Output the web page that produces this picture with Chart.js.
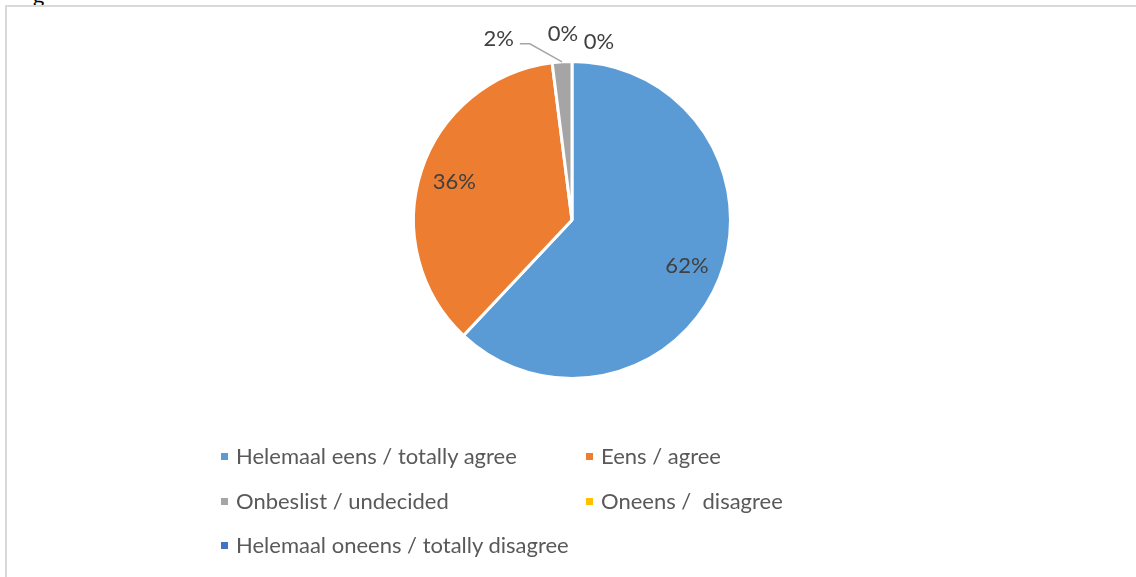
<!DOCTYPE html>
<html>
<head>
<meta charset="utf-8">
<script src="https://cdn.jsdelivr.net/npm/chart.js@4"></script>
<style>
  html, body { margin:0; padding:0; background:#fff; }
  body { width:1136px; height:577px; position:relative; overflow:hidden; font-family:Lato, "Open Sans", sans-serif; }
  #frame { position:absolute; left:5px; top:5px; right:-10px; bottom:-10px; border-top:2px solid #d9d9d9; border-left:2px solid #d9d9d9; }
  #cut { position:absolute; left:33px; top:-19px; font-size:22px; color:#000; }
  #wrap { position:absolute; left:0; top:0; width:1136px; height:577px; }
  .leg { position:absolute; font-size:22px; color:#595959; white-space:pre; line-height:1; }
  .leg i { position:absolute; left:-15px; top:8px; width:7px; height:7px; }
</style>
</head>
<body>
<div id="cut">g</div>
<div id="frame"></div>
<div id="wrap"><canvas id="myChart"></canvas></div>
<div id="legend"></div>
<script>
// data
const labels = [
  'Helemaal eens / totally agree',
  'Eens / agree',
  'Onbeslist / undecided',
  'Oneens /  disagree',
  'Helemaal oneens / totally disagree'
];
const values = [62, 36, 2, 0, 0];
const colors = ['#5B9BD5', '#ED7D31', '#A5A5A5', '#FFC000', '#4472C4'];

// label placement (inside slice or outside with a nudge)
const inside = [true, true, false, false, false];
const nudge = [[0,0], [0,0], [-62,-1], [-9,-6], [27,2]];

// legend spots, two columns
const legPos = [[236,445], [601,445], [236,490], [601,490], [236,534]];

const total = values.reduce((a, b) => a + b, 0);

const pieLabels = {
  id: 'pieLabels',
  afterDatasetsDraw(chart) {
    const ctx = chart.ctx;
    const meta = chart.getDatasetMeta(0);
    ctx.save();
    ctx.font = '22px Lato, "Open Sans", sans-serif';
    ctx.fillStyle = '#404040';
    ctx.textAlign = 'center';
    ctx.textBaseline = 'middle';
    meta.data.forEach((arc, i) => {
      const p = arc.getProps(['x', 'y', 'startAngle', 'endAngle', 'outerRadius'], true);
      const mid = (p.startAngle + p.endAngle) / 2;
      const txt = Math.round(values[i] / total * 100) + '%';
      let lx, ly;
      if (inside[i]) {
        const r = p.outerRadius * 0.78;
        lx = p.x + Math.cos(mid) * r;
        ly = p.y + Math.sin(mid) * r;
      } else {
        const r = p.outerRadius + 22;
        lx = p.x + Math.cos(mid) * r + nudge[i][0];
        ly = p.y + Math.sin(mid) * r + nudge[i][1];
        if (values[i] > 0) {
          // leader line
          const w = ctx.measureText(txt).width;
          const ex = p.x + Math.cos(mid) * p.outerRadius;
          const ey = p.y + Math.sin(mid) * p.outerRadius;
          ctx.beginPath();
          ctx.strokeStyle = '#a6a6a6';
          ctx.lineWidth = 1.5;
          ctx.moveTo(lx + w / 2 + 6, ly + 5);
          ctx.lineTo(lx + w / 2 + 16, ly + 5);
          ctx.lineTo(ex, ey);
          ctx.stroke();
        }
      }
      ctx.fillText(txt, lx, ly);
    });
    ctx.restore();
  }
};

const data = {
  labels: labels,
  datasets: [{
    data: values,
    backgroundColor: colors,
    borderColor: '#ffffff',
    borderWidth: 3
  }]
};

const config = {
  type: 'pie',
  data: data,
  options: {
    responsive: false,
    animation: false,
    layout: { padding: { top: 60, bottom: 197, left: 412, right: 404 } },
    plugins: {
      legend: { display: false },
      tooltip: { enabled: false }
    }
  },
  plugins: [pieLabels]
};

const cv = document.getElementById('myChart');
cv.width = 1136;
cv.height = 577;
const myChart = new Chart(cv, config);

// legend
const legend = document.getElementById('legend');
labels.forEach((l, i) => {
  const d = document.createElement('div');
  d.className = 'leg';
  d.style.left = legPos[i][0] + 'px';
  d.style.top = legPos[i][1] + 'px';
  d.textContent = l;
  const m = document.createElement('i');
  m.style.background = colors[i];
  d.appendChild(m);
  legend.appendChild(d);
});
</script>
</body>
</html>
